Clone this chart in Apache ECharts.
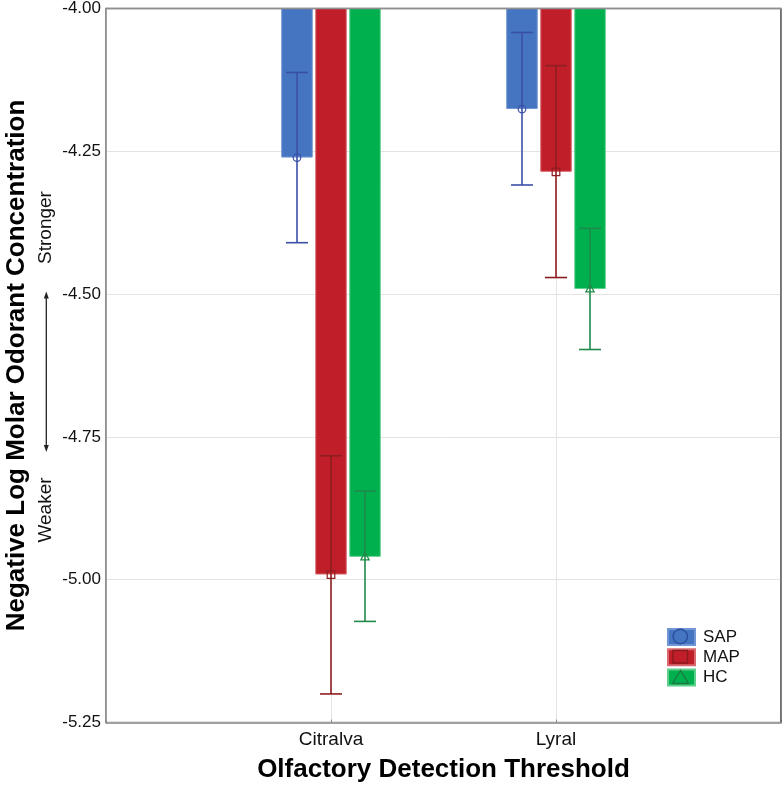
<!DOCTYPE html>
<html>
<head>
<meta charset="utf-8">
<script src="https://cdn.jsdelivr.net/npm/echarts@6/dist/echarts.min.js"></script>
<style>
html,body{margin:0;padding:0;background:#fff;}
#chart{width:784px;height:785px;}
</style>
</head>
<body>
<div id="chart"></div>
<script>
var categories = ['Citralva', 'Lyral'];
var seriesNames = ['SAP', 'MAP', 'HC'];
var sapMean = [-4.261, -4.176];
var sapLow  = [-4.410, -4.309];
var sapHigh = [-4.112, -4.042];
var mapMean = [-4.991, -4.286];
var mapLow  = [-5.200, -4.471];
var mapHigh = [-4.783, -4.100];
var hcMean  = [-4.960, -4.491];
var hcLow   = [-5.073, -4.597];
var hcHigh  = [-4.845, -4.385];
var yTicks = [-5.25, -5.00, -4.75, -4.50, -4.25, -4.00];

var FONT = "'Liberation Sans', Arial, Helvetica, sans-serif";
var barColors = ['#4575c1', '#c01f2a', '#00b04f'];
var barBorders = ['#7196d3', '#d86a70', '#5fcf8c'];
var errColors = ['#3a50a8', '#8e1d1f', '#1f8a4a'];
var shapes = ['circle', 'square', 'triangle'];
var offsets = [-34, 0, 34];

var means = [sapMean, mapMean, hcMean];
var lows = [sapLow, mapLow, hcLow];
var highs = [sapHigh, mapHigh, hcHigh];

var axisCats = [''].concat(categories).concat(['']);

function padded(arr) { return [null].concat(arr).concat([null]); }

var series = [];
for (var s = 0; s < 3; s++) {
  series.push({
    name: seriesNames[s],
    type: 'bar',
    data: padded(means[s]),
    barWidth: 31.5,
    barGap: '8%',
    clip: true,
    itemStyle: { color: barColors[s], borderColor: barBorders[s], borderWidth: 1 },
    z: 2
  });
}
for (var s2 = 0; s2 < 3; s2++) {
  (function (si) {
    var d = [];
    for (var i = 0; i < categories.length; i++) {
      d.push([i + 1, means[si][i], lows[si][i], highs[si][i]]);
    }
    series.push({
      name: seriesNames[si] + '_err',
      type: 'custom',
      data: d,
      z: 5,
      silent: true,
      encode: { x: 0, y: [1, 2, 3] },
      renderItem: function (params, api) {
        var x = api.value(0);
        var pm = api.coord([x, api.value(1)]);
        var pl = api.coord([x, api.value(2)]);
        var ph = api.coord([x, api.value(3)]);
        var cx = pm[0] + offsets[si];
        var hw = 11;
        var col = errColors[si];
        var st = { stroke: col, lineWidth: 1.6, fill: null };
        var children = [
          { type: 'line', shape: { x1: cx, y1: pl[1], x2: cx, y2: ph[1] }, style: st },
          { type: 'line', shape: { x1: cx - hw, y1: pl[1], x2: cx + hw, y2: pl[1] }, style: st },
          { type: 'line', shape: { x1: cx - hw, y1: ph[1], x2: cx + hw, y2: ph[1] }, style: st }
        ];
        var ms = { stroke: col, lineWidth: 1.2, fill: 'rgba(0,0,0,0)' };
        if (shapes[si] === 'circle') {
          children.push({ type: 'circle', shape: { cx: cx, cy: pm[1], r: 3.8 }, style: ms });
        } else if (shapes[si] === 'square') {
          children.push({ type: 'rect', shape: { x: cx - 3.8, y: pm[1] - 3.8, width: 7.6, height: 7.6 }, style: ms });
        } else {
          children.push({ type: 'polygon', shape: { points: [[cx, pm[1] - 4.5], [cx + 4.2, pm[1] + 3], [cx - 4.2, pm[1] + 3]] }, style: ms });
        }
        return { type: 'group', children: children };
      }
    });
  })(s2);
}

var chart = echarts.init(document.getElementById('chart'), null, { renderer: 'canvas' });
chart.setOption({
  animation: false,
  backgroundColor: '#ffffff',
  textStyle: { fontFamily: FONT },
  grid: {
    left: 106, right: 3, top: 8.5, bottom: 62.5,
    containLabel: false,
    outerBoundsMode: 'none',
    show: true, borderColor: '#8a8a8a', borderWidth: 1.5, backgroundColor: 'transparent'
  },
  legend: {
    data: seriesNames,
    orient: 'vertical',
    left: 662, top: 623,
    padding: 5,
    itemWidth: 27, itemHeight: 16, itemGap: 2.2,
    icon: 'rect',
    selectedMode: false,
    textStyle: { fontSize: 17, lineHeight: 16, color: '#111', fontFamily: FONT, padding: [0, 0, 0, 3] }
  },
  xAxis: {
    type: 'category',
    data: axisCats,
    boundaryGap: false,
    name: 'Olfactory Detection Threshold',
    nameLocation: 'middle',
    nameGap: 34,
    nameTextStyle: { fontSize: 26, fontWeight: 'bold', color: '#000', fontFamily: FONT },
    axisLine: { show: true, lineStyle: { color: '#8a8a8a', width: 1.5 } },
    axisTick: { show: true, inside: true, length: 3, lineStyle: { color: '#8a8a8a' } },
    axisLabel: { fontSize: 19, color: '#111', margin: 8, fontFamily: FONT, interval: 0 },
    splitLine: { show: true, lineStyle: { color: '#e3e3e3', width: 1 } }
  },
  yAxis: {
    type: 'value',
    min: -5.25, max: -4.00, interval: 0.25,
    name: 'Negative Log Molar Odorant Concentration',
    nameLocation: 'middle',
    nameGap: 76,
    nameTextStyle: { fontSize: 26, fontWeight: 'bold', color: '#000', fontFamily: FONT },
    axisLine: { show: true, lineStyle: { color: '#8a8a8a', width: 1.5 } },
    axisTick: { show: false },
    axisLabel: {
      fontSize: 17, color: '#111', margin: 5, fontFamily: FONT,
      formatter: function (v) {
        for (var i = 0; i < yTicks.length; i++) {
          if (Math.abs(yTicks[i] - v) < 1e-9) return yTicks[i].toFixed(2);
        }
        return '';
      }
    },
    splitLine: { show: true, lineStyle: { color: '#e3e3e3', width: 1 } }
  },
  graphic: [
    { type: 'line', shape: { x1: 781, y1: 8.5, x2: 781, y2: 722.5 }, style: { stroke: '#606060', lineWidth: 1.5 }, z: 10 },
    { type: 'line', shape: { x1: 106, y1: 8.5, x2: 781, y2: 8.5 }, style: { stroke: '#8f8f8f', lineWidth: 1.5 }, z: 10 },
    { type: 'text', x: 46, y: 227.5, rotation: Math.PI / 2,
      style: { text: 'Stronger', font: '19px ' + FONT, fill: '#111', textAlign: 'center', textVerticalAlign: 'middle' } },
    { type: 'text', x: 46, y: 510, rotation: Math.PI / 2,
      style: { text: 'Weaker', font: '19px ' + FONT, fill: '#111', textAlign: 'center', textVerticalAlign: 'middle' } },
    { type: 'line', shape: { x1: 46.3, y1: 296, x2: 46.3, y2: 448 }, style: { stroke: '#222', lineWidth: 1.3 } },
    { type: 'polygon', shape: { points: [[46.3, 291.5], [43.8, 298.5], [48.8, 298.5]] }, style: { fill: '#222' } },
    { type: 'polygon', shape: { points: [[46.3, 452], [43.8, 445], [48.8, 445]] }, style: { fill: '#222' } },
    { type: 'circle', shape: { cx: 680.3, cy: 636.5, r: 7.2 }, style: { stroke: '#2c4f9e', lineWidth: 1.4, fill: 'rgba(0,0,0,0)' }, z: 20 },
    { type: 'rect', shape: { x: 673, y: 650.5, width: 14.5, height: 12.5 }, style: { stroke: '#8a1a1c', lineWidth: 1.4, fill: 'rgba(0,0,0,0)' }, z: 20 },
    { type: 'polygon', shape: { points: [[680.5, 670.5], [688.5, 683.5], [672.5, 683.5]] }, style: { stroke: '#1a7a40', lineWidth: 1.4, fill: 'rgba(0,0,0,0)' }, z: 20 }
  ],
  series: series
});
</script>
</body>
</html>
